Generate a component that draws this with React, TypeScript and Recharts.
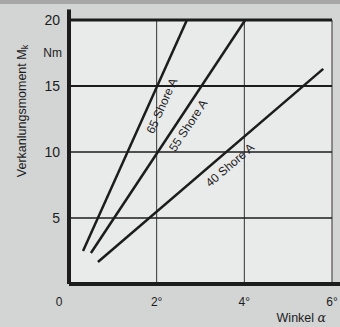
import React from 'react';
import { ComposedChart, Line, XAxis, YAxis, CartesianGrid, ReferenceLine, ReferenceDot } from 'recharts';

// torque vs angle for three rubber hardnesses
const shore65 = [{ x: 0.32, y: 2.5 }, { x: 2.69, y: 20 }];
const shore55 = [{ x: 0.5, y: 2.35 }, { x: 4.02, y: 20 }];
const shore40 = [{ x: 0.66, y: 1.67 }, { x: 5.8, y: 16.3 }];

const xTicks = [0, 2, 4, 6];
const xTickLabels = ['0', '2°', '4°', '6°'];
const yTicks = [5, 10, 15, 20];

const curveLabels = [
  { x: 2.12, y: 13.5, text: '65 Shore A', angle: -65.8 },
  { x: 2.72, y: 12.0, text: '55 Shore A', angle: -56.5 },
  { x: 3.67, y: 9.0, text: '40 Shore A', angle: -40.6 },
];

const ink = '#1c1c1c';
const font = '"Liberation Sans", Arial, sans-serif';

function XTick(props: any) {
  const { x, y, payload } = props;
  const i = xTicks.indexOf(payload.value);
  return (
    <text x={payload.value === 0 ? x - 10 : x} y={y + 14} textAnchor="middle" fontSize={12} fill={ink} fontFamily={font}>
      {xTickLabels[i]}
    </text>
  );
}

function YTick(props: any) {
  const { x, y, payload } = props;
  return (
    <text x={x - 1} y={y + 5} textAnchor="end" fontSize={14} fill={ink} fontFamily={font}>
      {payload.value}
    </text>
  );
}

function YTitle(props: any) {
  const { viewBox } = props;
  const cx = 22;
  const cy = 111;
  return (
    <g fontFamily={font} fill={ink}>
      <text x={cx} y={cy} transform={`rotate(-90 ${cx} ${cy})`} textAnchor="middle" dominantBaseline="central" fontSize={12.5}>
        Verkanlungsmoment M<tspan fontSize={9} dy={3}>k</tspan>
      </text>
      <text x={viewBox.x + viewBox.width - 7} y={57} textAnchor="end" fontSize={12}>Nm</text>
    </g>
  );
}

function XTitle(props: any) {
  return (
    <text x={326} y={322} textAnchor="end" fontSize={12.5} fill={ink} fontFamily={font}>
      Winkel <tspan fontStyle="italic" fontFamily="'DejaVu Serif', serif">α</tspan>
    </text>
  );
}

function CurveLabel(label: typeof curveLabels[number]) {
  return (props: any) => (
    <text
      x={props.cx}
      y={props.cy}
      transform={`rotate(${label.angle} ${props.cx} ${props.cy})`}
      textAnchor="middle"
      dominantBaseline="central"
      fontSize={12}
      fill={ink}
      fontFamily={font}
    >
      {label.text}
    </text>
  );
}

export default function App() {
  return (
    <div style={{ position: 'absolute', left: 0, top: 0, width: 340, height: 327, background: '#d3d4d4' }}>
      <div style={{ position: 'absolute', left: 0, top: 0, width: 340, height: 4, background: '#a7a7a7' }} />
      <ComposedChart width={340} height={327} margin={{ top: 20, right: 8, bottom: 0, left: 0 }}>
        <CartesianGrid horizontal={false} vertical={false} fill="#e9eaea" />
        <XAxis
          type="number"
          dataKey="x"
          domain={[0, 6]}
          ticks={xTicks}
          height={43}
          tick={<XTick />}
          tickLine={false}
          axisLine={{ stroke: ink, strokeWidth: 4 }}
          label={<XTitle />}
          allowDataOverflow
        />
        <YAxis
          type="number"
          dataKey="y"
          domain={[0, 20]}
          ticks={yTicks}
          width={69}
          tick={<YTick />}
          tickLine={false}
          axisLine={{ stroke: ink, strokeWidth: 4 }}
          label={<YTitle />}
          allowDataOverflow
        />
        {[2, 4, 6].map(v => (
          <ReferenceLine key={`v${v}`} segment={[{ x: v, y: 0 }, { x: v, y: 20 }]} stroke="#333" strokeWidth={1} ifOverflow="visible" />
        ))}
        <ReferenceLine y={5} stroke={ink} strokeWidth={1.5} />
        <ReferenceLine y={10} stroke={ink} strokeWidth={1.5} />
        <ReferenceLine y={15} stroke={ink} strokeWidth={2} />
        <ReferenceLine y={20} stroke={ink} strokeWidth={3} />
        <ReferenceLine segment={[{ x: 0, y: 19.5 }, { x: 0, y: 20.8 }]} stroke={ink} strokeWidth={4} ifOverflow="visible" />
        <ReferenceLine segment={[{ x: 5.8, y: 0 }, { x: 6.2, y: 0 }]} stroke={ink} strokeWidth={4} ifOverflow="visible" />
        <Line data={shore65} dataKey="y" stroke={ink} strokeWidth={2.5} dot={false} isAnimationActive={false} />
        <Line data={shore55} dataKey="y" stroke={ink} strokeWidth={2.5} dot={false} isAnimationActive={false} />
        <Line data={shore40} dataKey="y" stroke={ink} strokeWidth={2.5} dot={false} isAnimationActive={false} />
        {curveLabels.map(l => (
          <ReferenceDot key={l.text} x={l.x} y={l.y} r={0} shape={CurveLabel(l)} ifOverflow="visible" />
        ))}
      </ComposedChart>
    </div>
  );
}
